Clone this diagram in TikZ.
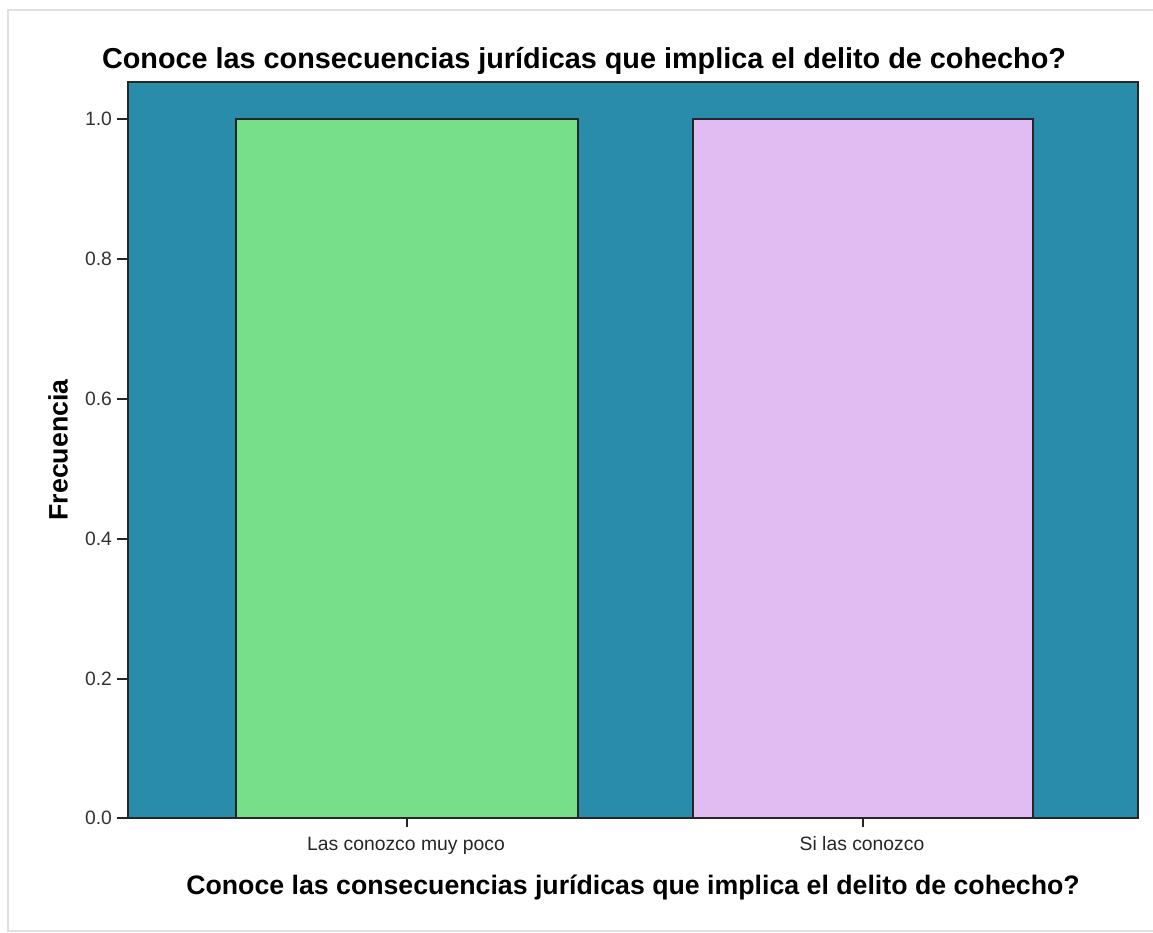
\documentclass[tikz,border=0pt]{standalone}
\usepackage{fontspec}
\setmainfont{Liberation Sans}
\usepackage{tikz}
\usetikzlibrary{positioning}

\definecolor{plotbg}{RGB}{41,140,171}
\definecolor{bargreen}{RGB}{119,222,137}
\definecolor{barlilac}{RGB}{225,188,242}

\begin{document}
\begin{tikzpicture}[x=0.02cm, y=-0.02cm,
				barbox/.style={draw=black!85, line width=0.9pt},
				tickmark/.style={draw=black!85, line width=0.9pt},
				ticklabel/.style={font=\fontsize{11}{13}\selectfont, text=black!80, inner sep=1pt},
				catlabel/.style={font=\fontsize{11}{13}\selectfont, text=black!85, inner sep=0pt, anchor=base},
				titletext/.style={font=\bfseries\fontsize{16.4}{19}\selectfont, inner sep=0pt},
				axistext/.style={font=\bfseries\fontsize{15.2}{18}\selectfont, inner sep=0pt},
				]
				%Canvas
				\useasboundingbox (0,0) rectangle (1153,933);
				\fill[white] (0,0) rectangle (1153,933);
				\draw[black!12, line width=1.5pt] (1153,10) -- (8,10) -- (8,931) -- (1153,931);
				
				%Plot area and bars
				\fill[plotbg] (128,82) rectangle (1138,818);
				\draw[barbox, fill=bargreen] (236,818) rectangle (578,119);
				\draw[barbox, fill=barlilac] (693,818) rectangle (1033,119);
				\draw[barbox] (128,82) rectangle (1138,818);
				
				%Ticks
				\coordinate (y0) at (128,818);
				\coordinate (y2) at (128,679);
				\coordinate (y4) at (128,539);
				\coordinate (y6) at (128,399);
				\coordinate (y8) at (128,259);
				\coordinate (y10) at (128,119);
				\coordinate (x1) at (407,818);
				\coordinate (x2) at (863,818);
				\draw[tickmark] (y0) -- ++(-11,0);
				\draw[tickmark] (y2) -- ++(-11,0);
				\draw[tickmark] (y4) -- ++(-11,0);
				\draw[tickmark] (y6) -- ++(-11,0);
				\draw[tickmark] (y8) -- ++(-11,0);
				\draw[tickmark] (y10) -- ++(-11,0);
				\draw[tickmark] (x1) -- ++(0,9);
				\draw[tickmark] (x2) -- ++(0,9);
				
				%Labels
				\node[ticklabel, anchor=east] (l0)  at (114,818) {0.0};
				\node[ticklabel, anchor=east] (l2)  at (114,679) {0.2};
				\node[ticklabel, anchor=east] (l4)  at (114,539) {0.4};
				\node[ticklabel, anchor=east] (l6)  at (114,399) {0.6};
				\node[ticklabel, anchor=east] (l8)  at (114,259) {0.8};
				\node[ticklabel, anchor=east] (l10) at (114,119) {1.0};
				\node[catlabel] (c1) at (406,850) {Las conozco muy poco};
				\node[catlabel] (c2) at (862,850) {Si las conozco};
				
				\node[titletext] (title) at (584,61) {Conoce las consecuencias jurídicas que implica el delito de cohecho?};
				\node[axistext] (xlabel) at (633,887) {Conoce las consecuencias jurídicas que implica el delito de cohecho?};
				\node[axistext, rotate=90] (ylabel) at (58,450) {Frecuencia};
			\end{tikzpicture}
\end{document}
